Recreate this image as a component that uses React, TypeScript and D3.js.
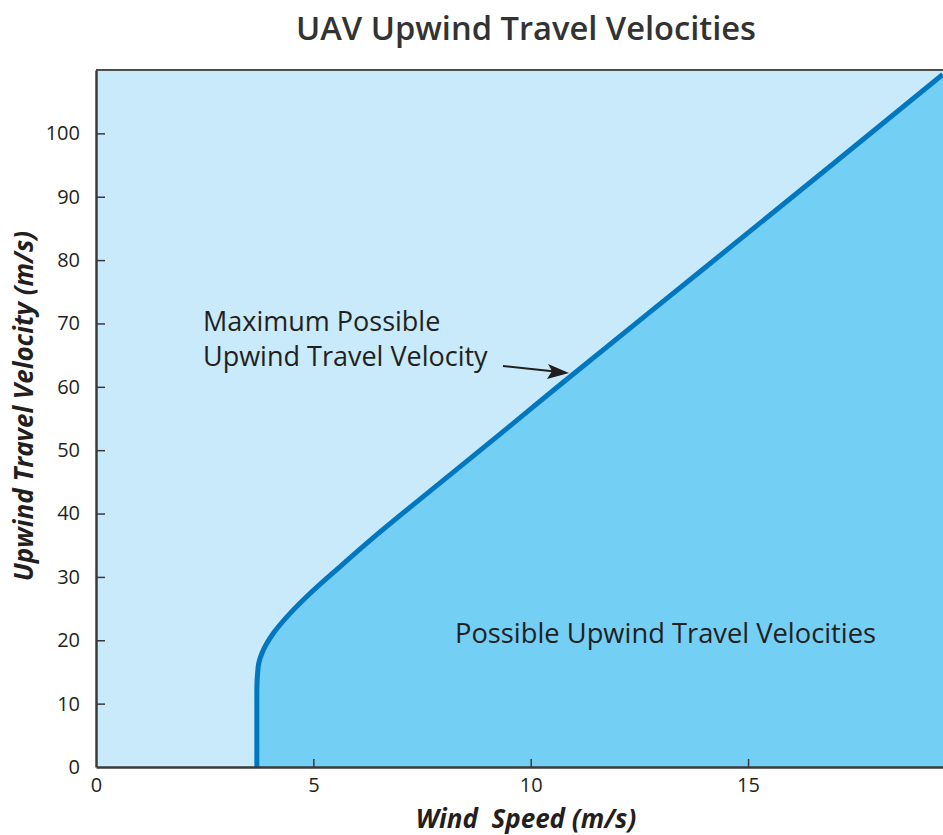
import React, { useEffect, useRef } from 'react';
import * as d3 from 'd3';

// Boundary of the reachable region
const windSpeed = [3.7, 3.7, 3.7, 3.73, 3.82, 4.08, 4.46, 4.85, 5.61, 6.38, 7.91, 9.45, 10.6, 13.9, 16.96, 19.48];
const upwindVelocity = [0, 6, 12, 15.8, 18, 21.1, 24.2, 26.9, 31.6, 36.2, 44.8, 53.4, 59.9, 78.2, 95.2, 109.3];

const xTicks = [0, 5, 10, 15];
const yTicks = [0, 10, 20, 30, 40, 50, 60, 70, 80, 90, 100];

const W = 943;
const H = 835;

const App: React.FC = () => {
  const ref = useRef<SVGSVGElement>(null);

  useEffect(() => {
    if (!ref.current) return;
    const svg = d3.select(ref.current);
    svg.selectAll('*').remove();

    const margin = { top: 70, right: 0, bottom: 68, left: 96 };
    const x = d3.scaleLinear().domain([0, 19.485]).range([margin.left, W - margin.right]);
    const y = d3.scaleLinear().domain([0, 110]).range([H - margin.bottom, margin.top]);

    const data = windSpeed.map((w, i) => ({ w, v: upwindVelocity[i] }));
    const font = "'Open Sans', sans-serif";
    const ink = '#231f20';

    svg.append('defs').append('clipPath').attr('id', 'plot-clip')
      .append('rect')
        .attr('x', x.range()[0])
        .attr('y', y.range()[1])
        .attr('width', x.range()[1] - x.range()[0])
        .attr('height', y.range()[0] - y.range()[1]);

    // background
    svg.append('rect')
      .attr('x', x.range()[0])
      .attr('y', y.range()[1])
      .attr('width', x.range()[1] - x.range()[0])
      .attr('height', y.range()[0] - y.range()[1])
      .attr('fill', '#c8eafa');

    const plot = svg.append('g').attr('clip-path', 'url(#plot-clip)');

    // region to the right of the curve
    const area = d3.area<{ w: number; v: number }>()
      .curve(d3.curveMonotoneY)
      .y(d => y(d.v))
      .x0(d => x(d.w))
      .x1(x.range()[1] + 10);

    plot.append('path')
      .datum(data)
      .attr('d', area)
      .attr('fill', '#74cff5');

    const line = d3.line<{ w: number; v: number }>()
      .curve(d3.curveMonotoneY)
      .x(d => x(d.w))
      .y(d => y(d.v));

    plot.append('path')
      .datum(data)
      .attr('d', line)
      .attr('fill', 'none')
      .attr('stroke', '#0077bf')
      .attr('stroke-width', 5);

    // top border
    svg.append('line')
      .attr('x1', x.range()[0])
      .attr('x2', x.range()[1])
      .attr('y1', y.range()[1])
      .attr('y2', y.range()[1])
      .attr('stroke', '#4d4d4d')
      .attr('stroke-width', 2);

    // axes
    const xAxis = svg.append('g')
      .attr('transform', `translate(0,${y.range()[0]})`)
      .call(d3.axisBottom(x).tickValues(xTicks).tickSize(-8).tickSizeOuter(0).tickPadding(11).tickFormat(d3.format('d')));

    const yAxis = svg.append('g')
      .attr('transform', `translate(${x.range()[0]},0)`)
      .call(d3.axisLeft(y).tickValues(yTicks).tickSize(-9).tickSizeOuter(0).tickPadding(16).tickFormat(d3.format('d')));

    [xAxis, yAxis].forEach(g => {
      g.attr('font-family', font).attr('font-size', 20);
      g.select('.domain').attr('stroke', '#3a3a3a').attr('stroke-width', 2.5);
      g.selectAll('.tick line').attr('stroke', '#3a3a3a').attr('stroke-width', 1.5);
      g.selectAll('.tick text').attr('fill', ink);
    });
    xAxis.selectAll('.tick').filter(d => d === 0).select('line').remove();
    yAxis.selectAll('.tick').filter(d => d === 0).select('line').remove();

    // title
    svg.append('text')
      .attr('x', 526)
      .attr('y', 40)
      .attr('text-anchor', 'middle')
      .attr('font-family', font)
      .attr('font-weight', 600)
      .attr('font-size', 32)
      .attr('textLength', 460)
      .attr('lengthAdjust', 'spacingAndGlyphs')
      .attr('fill', '#333')
      .text('UAV Upwind Travel Velocities');

    // axis titles
    svg.append('text')
      .attr('x', 526)
      .attr('y', 828)
      .attr('text-anchor', 'middle')
      .attr('font-family', font)
      .attr('font-weight', 700)
      .attr('font-style', 'italic')
      .attr('font-size', 26)
      .attr('fill', ink)
      .style('white-space', 'pre')
      .text('Wind  Speed (m/s)');

    svg.append('text')
      .attr('transform', `translate(33,${406}) rotate(-90)`)
      .attr('text-anchor', 'middle')
      .attr('font-family', font)
      .attr('font-weight', 700)
      .attr('font-style', 'italic')
      .attr('font-size', 26)
      .attr('fill', ink)
      .text('Upwind Travel Velocity (m/s)');

    // annotations
    const ann = svg.append('text')
      .attr('font-family', font)
      .attr('font-size', 27)
      .attr('fill', ink);
    ann.append('tspan').attr('x', 203).attr('y', 331).text('Maximum Possible');
    ann.append('tspan').attr('x', 203).attr('y', 366).text('Upwind Travel Velocity');

    svg.append('line')
      .attr('x1', 503).attr('y1', 366)
      .attr('x2', 555).attr('y2', 371.5)
      .attr('stroke', ink)
      .attr('stroke-width', 1.8);
    svg.append('path')
      .attr('d', 'M569,373 L548,364 L552,371 L547,379 Z')
      .attr('fill', ink);

    svg.append('text')
      .attr('x', 455)
      .attr('y', 643)
      .attr('font-family', font)
      .attr('font-size', 27.3)
      .attr('fill', ink)
      .text('Possible Upwind Travel Velocities');
  }, []);

  return (
    <svg
      ref={ref}
      width={W}
      height={H}
      style={{ position: 'absolute', left: 0, top: 0, display: 'block', background: '#fff' }}
    />
  );
};

export default App;
